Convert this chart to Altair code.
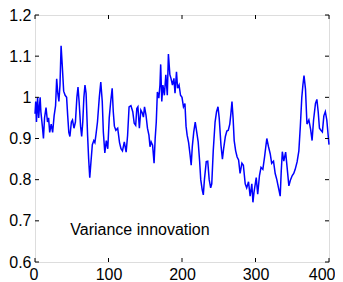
import altair as alt
import pandas as pd

# time index and variance innovation values
t = [0, 1, 2, 3.5, 5, 7, 8, 10, 11.5, 13, 15, 17, 18.5, 20, 22, 24, 26, 28, 29.5, 31,
     32.5, 34, 35.5, 37, 39, 41, 43, 44.5, 46, 47.5, 49.5, 51, 53, 55, 57, 58.5, 60, 62, 63.5, 65,
     66.5, 68, 69.5, 71.5, 73, 74.5, 76, 78, 80, 81.5, 83, 85, 87.5, 89.5, 91.5, 93, 95, 97, 99, 101,
     103, 105, 106.5, 108, 110, 112.5, 115, 117, 119, 121.5, 124, 126, 128, 130.5, 133, 135, 137, 138.5, 140, 142,
     144, 146, 147.5, 149, 151, 153, 155, 156.5, 158, 160, 162, 163.5, 165, 166.5, 168.5, 170, 171, 172.5, 174, 176,
     178, 180, 181.5, 183.5, 185, 187, 189, 190.5, 192.5, 194, 196, 198, 200, 202, 204, 205.5, 207, 209, 211, 212.5,
     214, 216, 218, 220, 222, 224, 225.5, 227.5, 229, 230.5, 233, 235, 237, 239, 240.5, 242.5, 245, 247, 249, 250.6,
     253, 255, 256.6, 259, 261, 263, 265, 266.5, 268, 269.5, 271, 273, 275, 277, 279, 281.5, 283.5, 286, 288, 290.5,
     292.7, 295, 296.5, 298, 301, 303, 305.4, 307.5, 310, 312.3, 314, 315.4, 317.7, 320, 322, 324.5, 326.8, 329, 331.3, 333.6,
     335, 336.5, 338.5, 341, 343, 345.4, 347.7, 350, 352, 354, 356.6, 359, 361, 363, 364.5, 366, 368, 370, 372.6, 375,
     377, 379, 381.6, 383.5, 385.3, 387, 389, 391, 393, 395, 397, 399, 400]
v = [0.96, 0.99, 0.94, 1.00, 0.95, 1.00, 0.965, 0.93, 0.90, 0.95, 0.975, 0.94, 0.95, 0.915, 0.935, 0.915, 0.955, 0.98, 1.045, 1.01,
     0.99, 1.03, 1.125, 1.08, 1.015, 1.005, 1.0, 0.955, 0.915, 0.905, 0.94, 0.945, 0.925, 0.94, 1.0, 1.025, 0.99, 0.93, 0.905, 0.94,
     1.0, 1.03, 1.01, 0.91, 0.85, 0.805, 0.84, 0.885, 0.895, 0.89, 0.91, 0.94, 1.0, 1.037, 0.99, 0.915, 0.865, 0.895, 0.875, 0.95,
     0.99, 1.022, 0.965, 0.93, 0.92, 0.925, 0.89, 0.875, 0.87, 0.892, 0.867, 0.908, 0.977, 0.98, 0.965, 0.937, 0.932, 0.973, 0.977, 0.925,
     0.969, 0.962, 0.952, 0.977, 0.957, 0.925, 0.908, 0.88, 0.892, 0.884, 0.84, 0.90, 0.94, 1.013, 0.998, 1.03, 1.08, 0.99, 1.03, 1.005,
     1.055, 1.005, 1.105, 1.055, 1.046, 1.03, 1.046, 1.01, 1.062, 1.022, 1.03, 1.005, 1.0, 0.977, 0.985, 0.93, 0.908, 0.89, 0.86, 0.835,
     0.88, 0.916, 0.94, 0.916, 0.892, 0.844, 0.80, 0.775, 0.763, 0.80, 0.844, 0.845, 0.80, 0.78, 0.79, 0.87, 0.94, 0.965, 0.977, 0.95,
     0.884, 0.85, 0.875, 0.905, 0.918, 0.92, 0.935, 0.96, 0.99, 0.95, 0.895, 0.87, 0.855, 0.848, 0.815, 0.84, 0.835, 0.79, 0.78, 0.795,
     0.76, 0.79, 0.745, 0.77, 0.805, 0.765, 0.81, 0.83, 0.825, 0.855, 0.88, 0.90, 0.88, 0.863, 0.84, 0.845, 0.815, 0.80, 0.78, 0.76,
     0.82, 0.868, 0.845, 0.867, 0.83, 0.785, 0.80, 0.81, 0.815, 0.825, 0.843, 0.87, 0.93, 1.0, 1.03, 1.053, 1.02, 0.935, 0.945, 0.922,
     0.895, 0.945, 0.985, 0.995, 0.965, 0.925, 0.92, 0.916, 0.955, 0.965, 0.945, 0.905, 0.885]

x_ticks = [0, 100, 200, 300, 400]
y_ticks = [0.6, 0.7, 0.8, 0.9, 1.0, 1.1, 1.2]
label_text = ["Variance innovation"]
label_pos = [48]
label_val = [0.678]

W, H = 294, 247
FONT = "Liberation Sans"

df = pd.DataFrame({"t": t, "v": v})
xs = alt.Scale(domain=[0, 400], nice=False)
ys = alt.Scale(domain=[0.6, 1.2], nice=False)

line = alt.Chart(df).mark_line(color="#0000ff", strokeWidth=1.5).encode(
    x=alt.X("t:Q", scale=xs, title=None,
            axis=alt.Axis(values=x_ticks, tickSize=0, labelPadding=4, domain=False, grid=False,
                          labelFont=FONT, labelFontSize=16, labelColor="#000",
                          labelFlush=True, labelFlushOffset=6, labelOverlap=False)),
    y=alt.Y("v:Q", scale=ys, title=None,
            axis=alt.Axis(values=y_ticks, tickSize=0, labelPadding=4, domain=False, grid=False,
                          labelFont=FONT, labelFontSize=16, labelColor="#000",
                          format=".1~f", labelFlush=False, labelOverlap=False)),
)

xt = pd.DataFrame({"t": x_ticks})
yt = pd.DataFrame({"v": y_ticks})
tick_b = alt.Chart(xt).mark_rule(color="#000").encode(x=alt.X("t:Q", scale=xs), y=alt.value(H), y2=alt.value(H - 4))
tick_t = alt.Chart(xt).mark_rule(color="#000").encode(x=alt.X("t:Q", scale=xs), y=alt.value(0), y2=alt.value(4))
tick_l = alt.Chart(yt).mark_rule(color="#000").encode(y=alt.Y("v:Q", scale=ys), x=alt.value(0), x2=alt.value(4))
tick_r = alt.Chart(yt).mark_rule(color="#000").encode(y=alt.Y("v:Q", scale=ys), x=alt.value(W), x2=alt.value(W - 4))

txt = alt.Chart(pd.DataFrame({"t": label_pos, "v": label_val, "s": label_text})).mark_text(
    align="left", baseline="middle", font=FONT, fontSize=16, color="#000"
).encode(x=alt.X("t:Q", scale=xs), y=alt.Y("v:Q", scale=ys), text="s:N")

chart = alt.layer(line, tick_b, tick_t, tick_l, tick_r, txt).properties(
    width=W, height=H,
    autosize=alt.AutoSizeParams(type="none"),
    padding={"left": 27, "top": 7, "right": 6, "bottom": 20},
).configure_view(stroke="#000", strokeWidth=1).configure(background="white")

chart.save("out.html", embed_options={"renderer": "svg", "actions": False})
